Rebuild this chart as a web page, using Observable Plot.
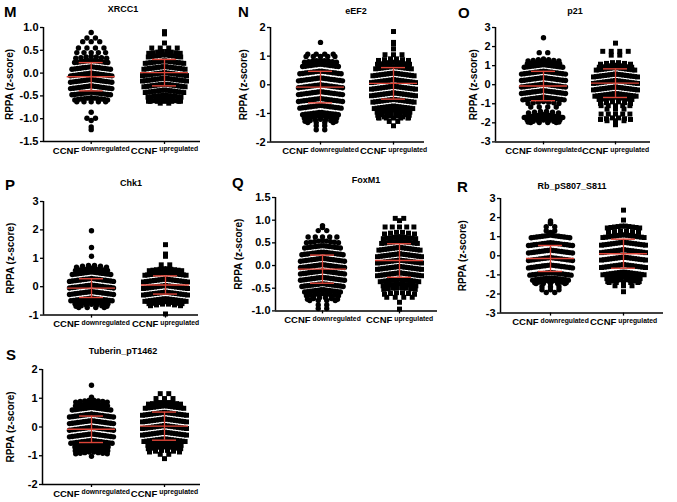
<!DOCTYPE html>
<html><head><meta charset="utf-8">
<script src="https://cdn.jsdelivr.net/npm/d3@7"></script>
<script src="https://cdn.jsdelivr.net/npm/@observablehq/plot@0.6"></script>
<style>
body{margin:0;background:#fff;}
#fig{position:relative;width:677px;height:502px;overflow:hidden;font-family:"Liberation Sans",Arial,Helvetica,sans-serif;color:#000;background:#fff;}
.letter{position:absolute;z-index:5;font-weight:bold;font-size:15px;line-height:15px;white-space:nowrap;}
.ttl{position:absolute;z-index:5;font-weight:bold;font-size:9px;line-height:9px;white-space:nowrap;transform:translateX(-50%);}
#fig svg{position:absolute;z-index:1;background:none;}
</style></head><body><div id="fig"></div>
<script>
// ---------- data ----------
const prefix = "CCNF";
const groups = ["downregulated", "upregulated"];
const panelLetters = ["M", "N", "O", "P", "Q", "R", "S"];
const proteins = ["XRCC1", "eEF2", "p21", "Chk1", "FoxM1", "Rb_pS807_S811", "Tuberin_pT1462"];
const yLabel = "RPPA (z-score)";

const ticksM = [-1.5, -1.0, -0.5, 0.0, 0.5, 1.0];
const tickLabelsM = ["-1.5", "-1.0", "-0.5", "0.0", "0.5", "1.0"];
const ticksN = [-2, -1, 0, 1, 2];
const tickLabelsN = ["-2", "-1", "0", "1", "2"];
const ticksO = [-3, -2, -1, 0, 1, 2, 3];
const tickLabelsO = ["-3", "-2", "-1", "0", "1", "2", "3"];
const ticksP = [-1, 0, 1, 2, 3];
const tickLabelsP = ["-1", "0", "1", "2", "3"];
const ticksQ = [-1.0, -0.5, 0.0, 0.5, 1.0, 1.5];
const tickLabelsQ = ["-1.0", "-0.5", "0.0", "0.5", "1.0", "1.5"];
const ticksR = [-3, -2, -1, 0, 1, 2, 3];
const tickLabelsR = ["-3", "-2", "-1", "0", "1", "2", "3"];
const ticksS = [-2, -1, 0, 1, 2];
const tickLabelsS = ["-2", "-1", "0", "1", "2"];

// rows of the scatter: [z-score, number of samples at that level]
const xrcc1Down = [[0.89,1],[0.77,2],[0.69,3],[0.55,4],[0.45,5],[0.37,7],
  [0.28,13],[0.14,15],[0.0,16],[-0.14,16],[-0.28,16],[-0.42,15],
  [-0.54,11],[-0.63,5],[-0.86,1],[-0.99,2],[-1.04,1],[-1.18,1],[-1.24,1]];
const xrcc1Up = [[0.91,1],[0.86,1],[0.66,1],[0.55,4],[0.48,8],[0.4,10],
  [0.27,15],[0.145,16],[0.01,17],[-0.11,17],[-0.24,16],[-0.37,15],
  [-0.48,12],[-0.57,9],[-0.62,5],[-0.66,2]];
const eef2Down = [[1.48,1],[1.07,4],[0.99,5],[0.86,9],
  [0.72,14],[0.48,16],[0.24,17],[0.0,17],[-0.24,17],[-0.48,17],[-0.72,16],[-0.96,14],
  [-1.08,10],[-1.2,7],[-1.32,4],[-1.43,2],[-1.57,2]];
const eef2Up = [[1.86,1],[1.48,1],[1.42,1],[1.25,1],[1.05,3],[0.92,6],[0.79,9],
  [0.64,14],[0.41,16],[0.18,17],[-0.05,17],[-0.28,17],[-0.51,16],[-0.74,15],
  [-0.88,11],[-0.99,8],[-1.08,6],[-1.16,5],[-1.28,2],[-1.43,1]];
const p21Down = [[2.46,1],[1.68,2],[1.35,7],[1.2,10],
  [1.05,15],[0.71,17],[0.37,17],[0.03,17],[-0.31,17],[-0.65,16],
  [-0.88,7],[-1.17,4],[-1.38,6],[-1.58,15],[-1.72,12],[-1.85,7],[-1.98,4]];
const p21Up = [[2.18,1],[1.75,4],[1.55,2],[1.18,6],[1.03,10],
  [0.9,15],[0.56,17],[0.22,17],[-0.12,17],[-0.46,16],
  [-0.66,11],[-0.88,6],[-1.1,5],[-1.28,3],[-1.54,5],[-1.72,6],[-1.89,3],[-2.1,1]];
const chk1Down = [[1.97,1],[1.38,1],[1.07,1],[0.76,6],[0.65,9],
  [0.52,15],[0.29,17],[0.06,17],[-0.17,17],[-0.4,16],
  [-0.52,12],[-0.62,7],[-0.73,4]];
const chk1Up = [[1.48,1],[1.15,1],[1.07,1],[0.77,2],[0.64,10],
  [0.5,16],[0.27,17],[0.04,17],[-0.19,17],[-0.42,16],
  [-0.52,12],[-0.6,6],[-0.96,1]];
const foxm1Down = [[0.88,1],[0.84,1],[0.77,2],[0.63,5],[0.55,9],
  [0.44,14],[0.3,16],[0.16,17],[0.02,17],[-0.12,17],[-0.26,17],[-0.4,16],[-0.53,14],
  [-0.62,9],[-0.7,6],[-0.77,4],[-0.87,2],[-0.95,2]];
const foxm1Up = [[1.04,2],[0.99,1],[0.85,5],[0.74,6],[0.64,10],
  [0.54,14],[0.4,16],[0.26,17],[0.12,17],[-0.02,17],[-0.16,17],[-0.3,15],
  [-0.4,11],[-0.48,8],[-0.59,6],[-0.7,4],[-0.81,1],[-0.96,1]];
const rbDown = [[1.83,1],[1.75,1],[1.69,1],[1.52,2],[1.31,2],[1.22,1],
  [1.08,15],[0.69,17],[0.3,17],[-0.09,17],[-0.48,17],[-0.87,16],
  [-1.15,14],[-1.3,8],[-1.45,5],[-1.62,3],[-1.78,3],[-1.92,2]];
const rbUp = [[2.39,1],[1.87,1],[1.57,10],[1.33,6],
  [1.1,16],[0.71,17],[0.32,17],[-0.07,17],[-0.46,17],[-0.85,16],
  [-1.08,13],[-1.24,8],[-1.4,5],[-1.57,3],[-1.88,1]];
const tuberinDown = [[1.45,1],[1.04,1],[0.94,8],[0.81,9],
  [0.68,15],[0.45,17],[0.22,17],[-0.01,17],[-0.24,17],[-0.47,16],
  [-0.62,13],[-0.75,10],[-0.86,8],[-1.02,1]];
const tuberinUp = [[1.16,2],[0.99,3],[0.87,9],
  [0.74,15],[0.51,17],[0.28,17],[0.05,17],[-0.18,17],[-0.41,16],
  [-0.56,13],[-0.68,10],[-0.8,6],[-0.95,2],[-1.1,1]];

// mean and SD (red bars)
const meanDown = [-0.08, -0.08, -0.07, -0.05, -0.08, -0.14, -0.08];
const meanUp   = [ 0.01,  0.05,  0.08,  0.06,  0.11,  0.11,  0.03];
const sdDown   = [ 0.31,  0.55,  0.77,  0.33,  0.31,  0.68,  0.46];
const sdUp     = [ 0.29,  0.55,  0.75,  0.32,  0.37,  0.76,  0.49];

const downData = [xrcc1Down, eef2Down, p21Down, chk1Down, foxm1Down, rbDown, tuberinDown];
const upData = [xrcc1Up, eef2Up, p21Up, chk1Up, foxm1Up, rbUp, tuberinUp];
const tickSets = [ticksM, ticksN, ticksO, ticksP, ticksQ, ticksR, ticksS];
const tickLabelSets = [tickLabelsM, tickLabelsN, tickLabelsO, tickLabelsP, tickLabelsQ, tickLabelsR, tickLabelsS];

// ---------- layout (page pixels) ----------
const layout = [
 {left:43,right:200,top:26.7,bottom:140.7,g0:90.7,g1:164,letterX:4,letterBase:16.7,titleX:123,titleBase:13,yLabOff:34},
 {left:270,right:424,top:26.7,bottom:141.3,g0:320,g1:393,letterX:238,letterBase:16.7,titleX:356,titleBase:15,yLabOff:27},
 {left:495,right:650,top:27.3,bottom:141.7,g0:543,g1:615,letterX:458,letterBase:17.3,titleX:575,titleBase:15,yLabOff:22},
 {left:43,right:198,top:200.7,bottom:314.3,g0:91,g1:165,letterX:5,letterBase:190,titleX:131,titleBase:186.5,yLabOff:33},
 {left:275,right:437,top:197.3,bottom:310.7,g0:322,g1:399,letterX:232,letterBase:188,titleX:366,titleBase:183.5,yLabOff:37},
 {left:500,right:663,top:197.7,bottom:312.3,g0:550,g1:623,letterX:457,letterBase:191.5,titleX:572,titleBase:190,yLabOff:38},
 {left:42,right:200,top:369.3,bottom:484.3,g0:91,g1:164,letterX:6,letterBase:360,titleX:123,titleBase:355,yLabOff:32}
];
const red = "#dc4437";
const font = '"Liberation Sans", Arial, Helvetica, sans-serif';
const fig = document.getElementById("fig");

// Prism-style row layout: points of a row side by side, outer points drawn slightly lower
function expand(rows, g, unit, pyUnit) {
  const pts = [];
  for (const [v, n] of rows) {
    const sp = Math.max(2.75, Math.min(8.5, 36 / n));
    for (let k = 0; k < n; k++) {
      const off = (k - (n - 1) / 2) * sp;
      const sag = n >= 6 ? 3.2 * Math.abs(off) / 24 : 0;
      pts.push({group: groups[g], value: v, pos: v - sag / pyUnit, x: g + off / unit});
    }
  }
  return pts;
}

layout.forEach((L, p) => {
  const ML = 46, MR = 8, MT = 8, MB = 24;
  const W = L.right - L.left + ML + MR;
  const H = L.bottom - L.top + MT + MB;
  const unit = L.g1 - L.g0;
  const xmin = -(L.g0 - L.left) / unit;
  const xmax = (L.right - L.g0) / unit;
  const ticks = tickSets[p];
  const labelMap = new Map(ticks.map((t, i) => [t, tickLabelSets[p][i]]));
  const ymin = ticks[0], ymax = ticks[ticks.length - 1];
  const pyUnit = (L.bottom - L.top) / (ymax - ymin);

  const ptsDown = expand(downData[p], 0, unit, pyUnit);
  const ptsUp = expand(upData[p], 1, unit, pyUnit);
  const means = [meanDown[p], meanUp[p]];
  const sds = [sdDown[p], sdUp[p]];
  const mh = 24 / unit, ch = 12 / unit;
  const meanRows = means.map((m, g) => ({y: m, x1: g - mh, x2: g + mh}));
  const sdRows = means.map((m, g) => ({x: g, y1: m - sds[g], y2: m + sds[g]}));
  const capRows = means.flatMap((m, g) => [
    {y: m + sds[g], x1: g - ch, x2: g + ch},
    {y: m - sds[g], x1: g - ch, x2: g + ch}
  ]);

  const svg = Plot.plot({
    width: W, height: H,
    marginLeft: ML, marginRight: MR, marginTop: MT, marginBottom: MB,
    style: {fontFamily: font, fontSize: "11px", fontWeight: "bold", background: "none", color: "#000"},
    x: {domain: [xmin, xmax], axis: null},
    y: {domain: [ymin, ymax], axis: null},
    marks: [
      Plot.axisY(ticks, {tickFormat: d => labelMap.get(d), tickSize: 3, tickPadding: 2, label: null, fontSize: 11, strokeWidth: 1.3}),
      Plot.axisX([0, 1], {tickFormat: d => prefix + " " + groups[d], tickSize: 3, tickPadding: 3, label: null, fontSize: 9, strokeWidth: 1.3}),
      Plot.ruleX([xmin], {stroke: "#000", strokeWidth: 1.5}),
      Plot.ruleY([ymin], {stroke: "#000", strokeWidth: 1.5}),
      Plot.dot(ptsDown, {x: "x", y: "pos", r: 2.7, fill: "#000", stroke: "none", symbol: "circle"}),
      Plot.dot(ptsUp, {x: "x", y: "pos", r: 2.8, fill: "#000", stroke: "none", symbol: "square"}),
      Plot.ruleX(sdRows, {x: "x", y1: "y1", y2: "y2", stroke: red, strokeWidth: 1.3}),
      Plot.ruleY(meanRows, {y: "y", x1: "x1", x2: "x2", stroke: red, strokeWidth: 1.4}),
      Plot.ruleY(capRows, {y: "y", x1: "x1", x2: "x2", stroke: red, strokeWidth: 1.4}),
      Plot.text([yLabel], {frameAnchor: "left", textAnchor: "middle", rotate: -90, dx: -L.yLabOff, fontSize: 10, fontWeight: "bold", fill: "#000"})
    ]
  });
  svg.style.left = (L.left - ML) + "px";
  svg.style.top = (L.top - MT) + "px";
  svg.style.maxWidth = "none";
  svg.style.overflow = "visible";
  svg.style.background = "none";

  // superscript group names on the x tick labels
  svg.querySelectorAll("text").forEach(t => {
    const s = t.textContent;
    if (s.startsWith(prefix + " ")) {
      const g = s.slice(prefix.length + 1);
      t.textContent = "";
      const a = document.createElementNS("http://www.w3.org/2000/svg", "tspan");
      a.textContent = prefix;
      a.setAttribute("font-size", "9.5");
      const b = document.createElementNS("http://www.w3.org/2000/svg", "tspan");
      b.textContent = g;
      b.setAttribute("font-size", "6.8");
      b.setAttribute("dx", "2");
      b.setAttribute("dy", "-2.6");
      t.appendChild(a); t.appendChild(b);
    }
  });
  fig.appendChild(svg);

  const letter = document.createElement("div");
  letter.className = "letter";
  letter.textContent = panelLetters[p];
  letter.style.left = L.letterX + "px";
  letter.style.top = (L.letterBase - 12.7) + "px";
  fig.appendChild(letter);

  const ttl = document.createElement("div");
  ttl.className = "ttl";
  ttl.textContent = proteins[p];
  ttl.style.left = L.titleX + "px";
  ttl.style.top = (L.titleBase - 7.6) + "px";
  fig.appendChild(ttl);
});
</script></body></html>
